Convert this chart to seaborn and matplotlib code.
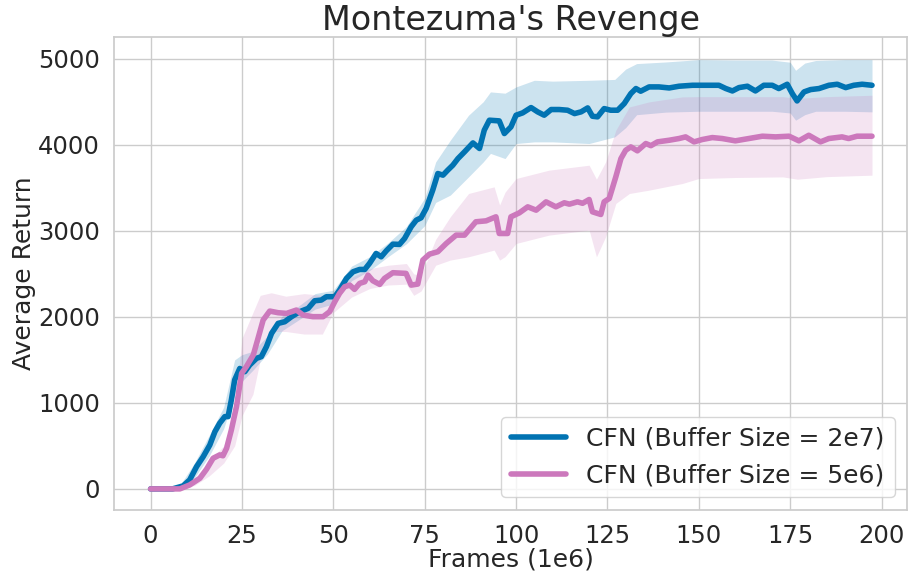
import numpy as np
import pandas as pd
import seaborn as sns
import matplotlib
matplotlib.use("Agg")
import matplotlib.pyplot as plt

# --- CFN, buffer size 2e7 (blue) ---
blue_x = [0, 6, 8.9, 10.7, 12.6, 14.4, 16.2, 17.6, 18.9, 20.3,
          21.2, 22.1, 23, 24.4, 25.8, 27.1, 29, 30.3, 31.7, 33.1,
          34.9, 36.7, 38.5, 40.8, 43.1, 44.9, 46.7, 48.1, 50.4, 51.7,
          53.6, 55.4, 57.2, 58.6, 59.9, 61.7, 63.1, 64.5, 66.3, 68.1,
          69.5, 71.3, 72.7, 74, 75.4, 77.2, 78.6, 80, 81.3, 82.7,
          84.1, 85.9, 88.2, 90, 91.3, 92.7, 95.4, 96.8, 98.6, 100,
          101.8, 104.1, 105.9, 107.7, 109.6, 111.8, 114.1, 116, 117.8, 119.6,
          120.9, 122.3, 124.1, 125.9, 127.8, 129.6, 131.4, 132.8, 134.1, 136.4,
          139.1, 141.9, 144.6, 148.3, 151.9, 155.5, 157.4, 159.2, 161, 163.3,
          165.5, 167.8, 170.1, 171.9, 174.2, 175.6, 176.9, 178.8, 180.6, 182.9,
          185.6, 187.9, 190.2, 192.4, 194.7, 197.4]
blue_mean = [0, 0, 35, 105, 260, 375, 510, 665, 763, 840,
             840, 1034, 1266, 1400, 1363, 1440, 1518, 1537, 1653, 1808,
             1924, 1943, 2000, 2060, 2098, 2187, 2195, 2234, 2234, 2311,
             2447, 2524, 2551, 2551, 2621, 2737, 2698, 2768, 2845, 2842,
             2911, 3047, 3124, 3151, 3260, 3473, 3666, 3647, 3705, 3763,
             3840, 3918, 4022, 3957, 4170, 4286, 4278, 4131, 4208, 4344,
             4371, 4433, 4383, 4344, 4410, 4410, 4402, 4363, 4383, 4429,
             4332, 4325, 4421, 4402, 4402, 4479, 4595, 4654, 4623, 4673,
             4673, 4661, 4681, 4692, 4692, 4692, 4654, 4626, 4665, 4681,
             4626, 4692, 4692, 4654, 4704, 4595, 4510, 4615, 4642, 4654,
             4692, 4704, 4665, 4692, 4704, 4692]

blue_band_x = [0, 8, 12, 16, 20, 23, 25, 28, 32, 36,
               40, 45, 50, 55, 60, 65, 70, 75, 78, 82,
               87, 91, 93, 97, 100, 105, 110, 120, 127, 130,
               133, 141, 150, 160, 170, 175, 176.5, 179, 182, 190,
               197.4]
blue_lo = [0, 0, 130, 380, 700, 1100, 1250, 1380, 1570, 1840,
           1950, 2090, 2150, 2420, 2540, 2700, 2850, 3060, 3330, 3415,
           3627, 3800, 3900, 3840, 4015, 4034, 4034, 4015, 4092, 4200,
           4350, 4380, 4390, 4390, 4390, 4370, 4286, 4350, 4390, 4390,
           4383]
blue_hi = [0, 40, 300, 620, 950, 1500, 1560, 1600, 1780, 2010,
           2110, 2270, 2310, 2590, 2700, 2860, 3050, 3380, 3800, 4053,
           4344, 4500, 4615, 4600, 4673, 4750, 4740, 4750, 4760, 4880,
           4944, 4963, 4990, 4985, 4985, 4960, 4866, 4950, 4980, 4990,
           4990]

# --- CFN, buffer size 5e6 (pink) ---
pink_x = [0, 8, 10.7, 13.5, 15.3, 17.1, 18.9, 19.8, 20.8, 22.1,
          23.5, 24.9, 26.2, 28.1, 29.4, 30.8, 32.6, 34.9, 37.2, 39.9,
          41.7, 44.4, 47.2, 49, 50.4, 51.7, 53.1, 54.5, 55.8, 57.2,
          58.6, 59.5, 60.8, 62.7, 64, 66.3, 69.9, 71.3, 73.1, 74.5,
          76.3, 78.6, 80.9, 83.6, 85.9, 89, 91.8, 94.5, 95.4, 97.7,
          98.6, 100.9, 103.2, 105.5, 108.2, 110.9, 113.2, 114.6, 116.8, 118.2,
          120, 120.9, 123.2, 124.1, 125.5, 127.3, 128.7, 130, 131.4, 133.2,
          135.5, 136.9, 138.7, 141.9, 144.6, 146.4, 148.7, 150.9, 153.7, 156.4,
          160, 163.7, 167.4, 171, 174.7, 177.4, 180.1, 183.3, 185.6, 189.2,
          191, 193.3, 197.4]
pink_mean = [0, 0, 46, 124, 228, 356, 395, 385, 472, 685,
             956, 1343, 1421, 1556, 1750, 1963, 2067, 2048, 2040, 2079,
             2021, 2002, 2002, 2060, 2176, 2273, 2350, 2369, 2319, 2389,
             2408, 2485, 2420, 2377, 2447, 2513, 2505, 2369, 2381, 2660,
             2729, 2757, 2853, 2950, 2950, 3105, 3116, 3163, 2969, 2969,
             3163, 3209, 3279, 3240, 3337, 3279, 3326, 3310, 3337, 3320,
             3364, 3221, 3190, 3337, 3376, 3628, 3840, 3937, 3976, 3930,
             4015, 3990, 4034, 4053, 4073, 4092, 4034, 4061, 4084, 4073,
             4046, 4073, 4100, 4092, 4100, 4046, 4111, 4034, 4073, 4092,
             4073, 4100, 4100]

pink_band_x = [0, 8, 12, 16, 20, 23, 25, 28, 30, 33,
               37, 42, 47, 50, 55, 60, 65, 70, 72, 74,
               78, 82, 87, 94, 95.5, 97, 100, 109, 120, 122,
               124.5, 127.3, 131, 136.4, 145.5, 150, 160, 173, 177, 185,
               197.4]
pink_lo = [0, 0, 40, 150, 300, 500, 850, 1100, 1500, 1830,
           1830, 1800, 1800, 2050, 2230, 2330, 2370, 2380, 2250, 2300,
           2600, 2660, 2698, 2776, 2660, 2700, 2853, 2950, 3008, 2698,
           2930, 3318, 3434, 3473, 3550, 3608, 3620, 3627, 3600, 3630,
           3647]
pink_hi = [0, 20, 120, 320, 500, 900, 1750, 2050, 2250, 2280,
           2240, 2270, 2250, 2280, 2460, 2560, 2600, 2620, 2500, 2480,
           2900, 3163, 3434, 3511, 3300, 3450, 3608, 3705, 3763, 3600,
           3800, 4170, 4440, 4499, 4557, 4560, 4560, 4560, 4540, 4560,
           4576]

labels = ["CFN (Buffer Size = 2e7)", "CFN (Buffer Size = 5e6)"]

sns.set_theme(style="whitegrid")
plt.rcParams["font.family"] = ["DejaVu Sans"]
colors = sns.color_palette("colorblind")
blue, pink = colors[0], colors[4]

df = pd.concat([
    pd.DataFrame({"frames": blue_x, "ret": blue_mean, "method": labels[0]}),
    pd.DataFrame({"frames": pink_x, "ret": pink_mean, "method": labels[1]}),
])

fig, ax = plt.subplots(figsize=(9.08, 5.73), dpi=100)
ax.fill_between(blue_band_x, blue_lo, blue_hi, color=blue, alpha=0.2, linewidth=0)
ax.fill_between(pink_band_x, pink_lo, pink_hi, color=pink, alpha=0.2, linewidth=0)
sns.lineplot(data=df, x="frames", y="ret", hue="method", estimator=None,
             palette=[blue, pink], linewidth=4, ax=ax)

ax.set_title("Montezuma's Revenge", fontsize=24, pad=5)
ax.set_xlabel("Frames (1e6)", fontsize=18, labelpad=0)
ax.set_ylabel("Average Return", fontsize=18, labelpad=2)
ax.tick_params(labelsize=17.5, pad=4)
ax.set_xticks([0, 25, 50, 75, 100, 125, 150, 175, 200])
ax.set_yticks([0, 1000, 2000, 3000, 4000, 5000])
ax.set_xlim(-10, 207)
ax.set_ylim(-245, 5253)
ax.legend(loc="lower right", fontsize=18, title=None, handlelength=2.2)

plt.subplots_adjust(left=0.1256, right=0.999, top=0.9354, bottom=0.110)
plt.savefig("out.png", dpi=100)
